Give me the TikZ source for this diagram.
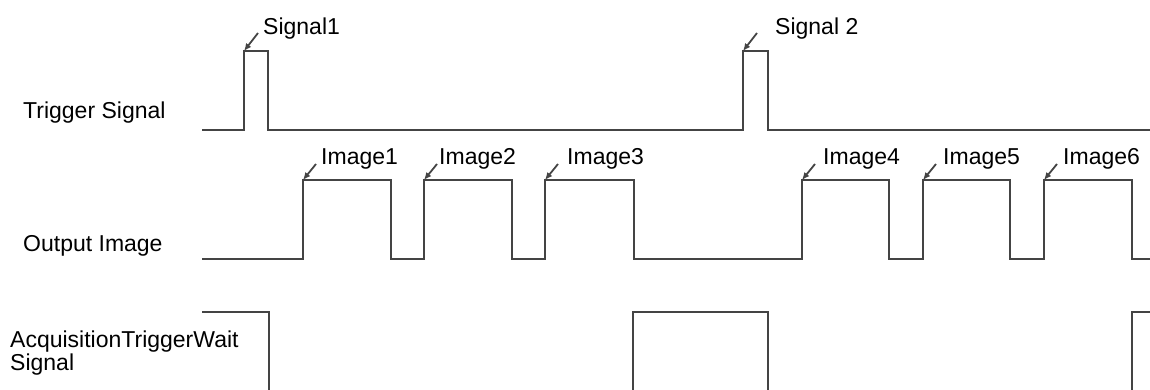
\documentclass[tikz,border=0pt]{standalone}
\usepackage{fontspec}
\setmainfont{Liberation Sans}
\usetikzlibrary{arrows.meta}
\definecolor{wavegray}{RGB}{68,68,68}
\definecolor{textblack}{RGB}{0,0,0}

\tikzset{
  wave/.style={draw=wavegray,line width=2pt,line join=miter},
  pointer/.style={draw=wavegray,line width=1.8pt,-{Latex[length=7.5pt,width=6.5pt]}},
  sigtag/.style={anchor=base west,inner sep=0pt,text=textblack},
  rowtag/.style={anchor=base west,inner sep=0pt,text=textblack,align=left}
}

\begin{document}
\begin{tikzpicture}[x=1pt,y=-1pt,font=\fontsize{23}{20}\selectfont]
\useasboundingbox (0,0) rectangle (1150,390);
% nomes das linhas
\node[rowtag] (trig) at (23,119) {Trigger Signal};
\node[rowtag] (outp) at (23,251) {Output Image};
\node[rowtag] (wait) at (10,370) {AcquisitionTriggerWait\\Signal};
% Trigger Signal
\draw[wave] (202,130) -| (244,51) -| (268,130) -| (743,51) -| (768,130) -- (1150,130);
% Output Image
\draw[wave] (202,259) -| (303,180) -| (391,259) -| (424,180) -| (512,259)
  -| (545,180) -| (634,259) -| (802,180) -| (889,259) -| (923,180)
  -| (1010,259) -| (1044,180) -| (1132,259) -- (1150,259);
% AcquisitionTriggerWait Signal
\draw[wave] (202,312) -| (269,391);
\draw[wave] (633,391) |- (768,312) -- (768,391);
\draw[wave] (1132,391) |- (1151,312);
% setas dos sinais
\foreach \x/\tx/\txt/\n in {244/263/Signal1/s1,743/775/Signal 2/s2}{
  \coordinate (\n tip) at (\x,51);
  \coordinate (\n tail) at (\x+14,33);
  \node[sigtag] (\n) at (\tx,35) {\txt};
  \draw[pointer] (\n tail) -- (\n tip);
}
% setas das imagens
\foreach \x/\tx/\k in {303/321/1,424/439/2,545/567/3,802/823/4,923/943/5,1044/1063/6}{
  \coordinate (img\k tip) at (\x,180);
  \coordinate (img\k tail) at (\x+13,164);
  \node[sigtag] (img\k) at (\tx,165) {Image\k};
  \draw[pointer] (img\k tail) -- (img\k tip);
}
\end{tikzpicture}
\end{document}
